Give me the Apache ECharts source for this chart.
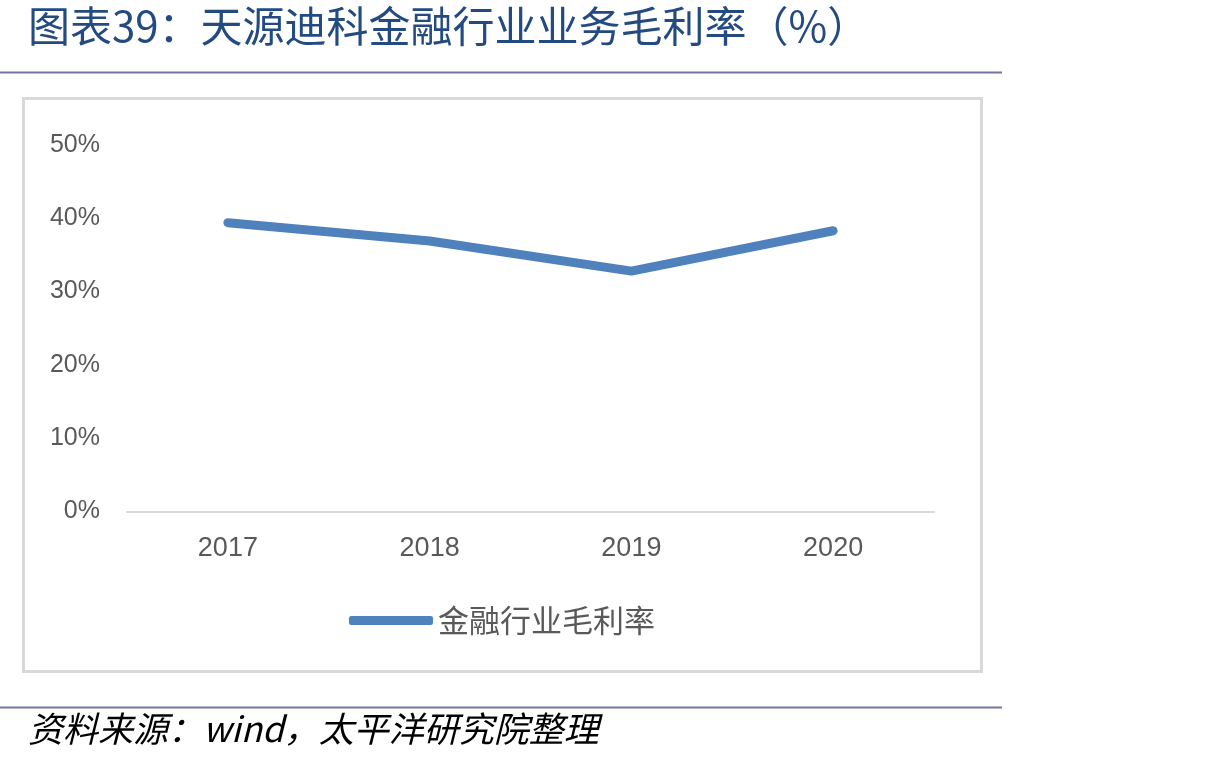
<!DOCTYPE html>
<html>
<head>
<meta charset="utf-8">
<script src="https://cdn.jsdelivr.net/npm/echarts@6/dist/echarts.min.js"></script>
<style>
  html, body { margin: 0; padding: 0; background: #fff; }
  #chart { width: 1224px; height: 766px; }
</style>
</head>
<body>
<div id="chart"></div>
<script>
  // data
  const years = ['2017', '2018', '2019', '2020']
  const grossMargin = [39.4, 36.9, 32.8, 38.3]
  const yTicks = [0, 10, 20, 30, 40, 50]
  const seriesName = '金融行业毛利率'
  const titleText = '图表39：天源迪科金融行业业务毛利率（%）'
  const sourceText = '资料来源：wind，太平洋研究院整理'

  const cjk = '"Noto Sans CJK SC", sans-serif'
  const latin = '"Liberation Sans", Arial, sans-serif'

  const chart = echarts.init(document.getElementById('chart'), null, { renderer: 'canvas' })

  const option = {
    backgroundColor: '#ffffff',
    animation: false,
    grid: { left: 127, width: 807, top: 145, height: 366.5 },
    legend: {
      data: [seriesName],
      left: 344,
      top: 600,
      itemWidth: 84,
      itemHeight: 9,
      itemGap: 10,
      icon: 'roundRect',
      textStyle: { fontFamily: cjk, fontSize: 31, color: '#595959' }
    },
    xAxis: {
      type: 'category',
      data: years,
      boundaryGap: true,
      axisLine: { lineStyle: { color: '#d9d9d9', width: 2 } },
      axisTick: { show: false },
      axisLabel: { margin: 24, fontFamily: latin, fontSize: 27, color: '#595959' }
    },
    yAxis: {
      type: 'value',
      min: yTicks[0],
      max: yTicks[yTicks.length - 1],
      interval: 10,
      axisLine: { show: false },
      axisTick: { show: false },
      splitLine: { show: false },
      axisLabel: {
        margin: 27,
        fontFamily: latin,
        fontSize: 25,
        color: '#595959',
        padding: [4, 0, 0, 0],
        formatter: v => v + '%'
      }
    },
    series: [{
      name: seriesName,
      type: 'line',
      data: grossMargin,
      symbol: 'none',
      lineStyle: { color: '#4f81bd', width: 9, cap: 'round', join: 'round' },
      itemStyle: { color: '#4f81bd' }
    }],
    graphic: [
      {
        type: 'text',
        left: 28,
        top: 5,
        style: { text: titleText, fontFamily: cjk, fontSize: 42, fill: '#234b82' }
      },
      {
        type: 'line',
        shape: { x1: 0, y1: 72.5, x2: 1002, y2: 72.5 },
        style: { stroke: '#7474a4', lineWidth: 2 }
      },
      {
        type: 'rect',
        shape: { x: 23.5, y: 98.5, width: 958, height: 573 },
        style: { fill: 'none', stroke: '#d9d9d9', lineWidth: 3 }
      },
      {
        type: 'line',
        shape: { x1: 0, y1: 707.5, x2: 1002, y2: 707.5 },
        style: { stroke: '#7474a4', lineWidth: 2 }
      },
      {
        type: 'text',
        left: 28,
        top: 711,
        style: { text: sourceText, fontFamily: cjk, fontSize: 35, fontStyle: 'italic', fill: '#000000' }
      }
    ]
  }

  chart.setOption(option)
</script>
</body>
</html>
